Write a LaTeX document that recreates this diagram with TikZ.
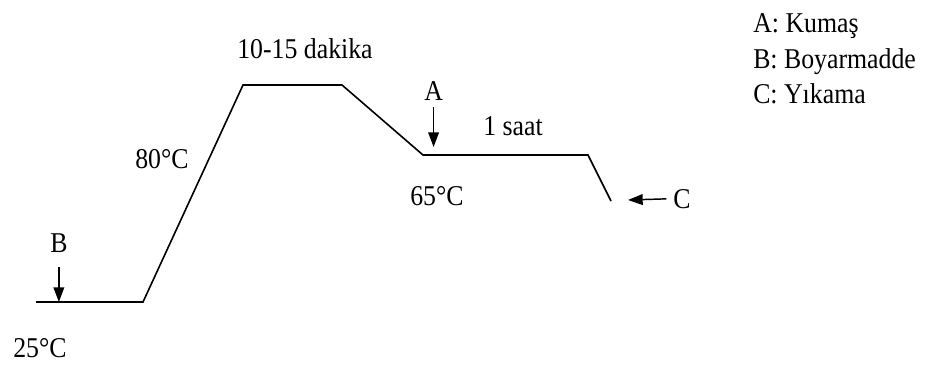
\documentclass[tikz,border=0pt]{standalone}
\usepackage{fontspec}
\setmainfont[FakeStretch=0.9]{Liberation Serif}
\usetikzlibrary{arrows.meta,positioning}

\begin{document}
\begin{tikzpicture}[
    x=0.75pt, y=-0.75pt,
    curve/.style={line width=1.2pt, line join=miter},
    arrow/.style={line width=1.1pt, -{Triangle[length=11pt, width=8pt]}},
    lbl/.style={font=\fontsize{21.5}{25}\selectfont, inner sep=0pt, anchor=base west}
]
\useasboundingbox (0,0) rectangle (931,365);

% Temperature profile
\coordinate (p0) at (36,302);
\coordinate (p1) at (143,302);
\coordinate (p2) at (243,85);
\coordinate (p3) at (342,85);
\coordinate (p4) at (423,155);
\coordinate (p5) at (588,155);
\coordinate (p6) at (611,201);
\draw[curve] (p0) -- (p1) -- (p2) -- (p3) -- (p4) -- (p5) -- (p6);

% Temperatures and times
\node[lbl] (t25) at (13,357) {25°C};
\node[lbl] (t80) at (135,168) {80°C};
\node[lbl] (t65) at (410,205) {65°C};
\node[lbl] (dak) at (237,58) {10-15 dakika};
\node[lbl] (saat) at (483,135) {1 saat};

% Additions
\node[lbl] (b) at (50,252) {B};
\draw[arrow, shorten <=11pt] (b.south) -- (b.south |- p0);
\node[lbl] (a) at (424,100) {A};
\draw[arrow, shorten <=5pt, shorten >=6pt] (a.south) -- (a.south |- p4);
\node[lbl] (c) at (673,208) {C};
\coordinate (cend) at (628,200);
\draw[arrow, shorten <=5pt] (c.west) -- (cend);

% Legend
\node[lbl] (legA) at (753,32) {A: Kumaş};
\node[lbl] (legB) at (753,68) {B: Boyarmadde};
\node[lbl] (legC) at (753,103) {C: Yıkama};

\end{tikzpicture}
\end{document}
